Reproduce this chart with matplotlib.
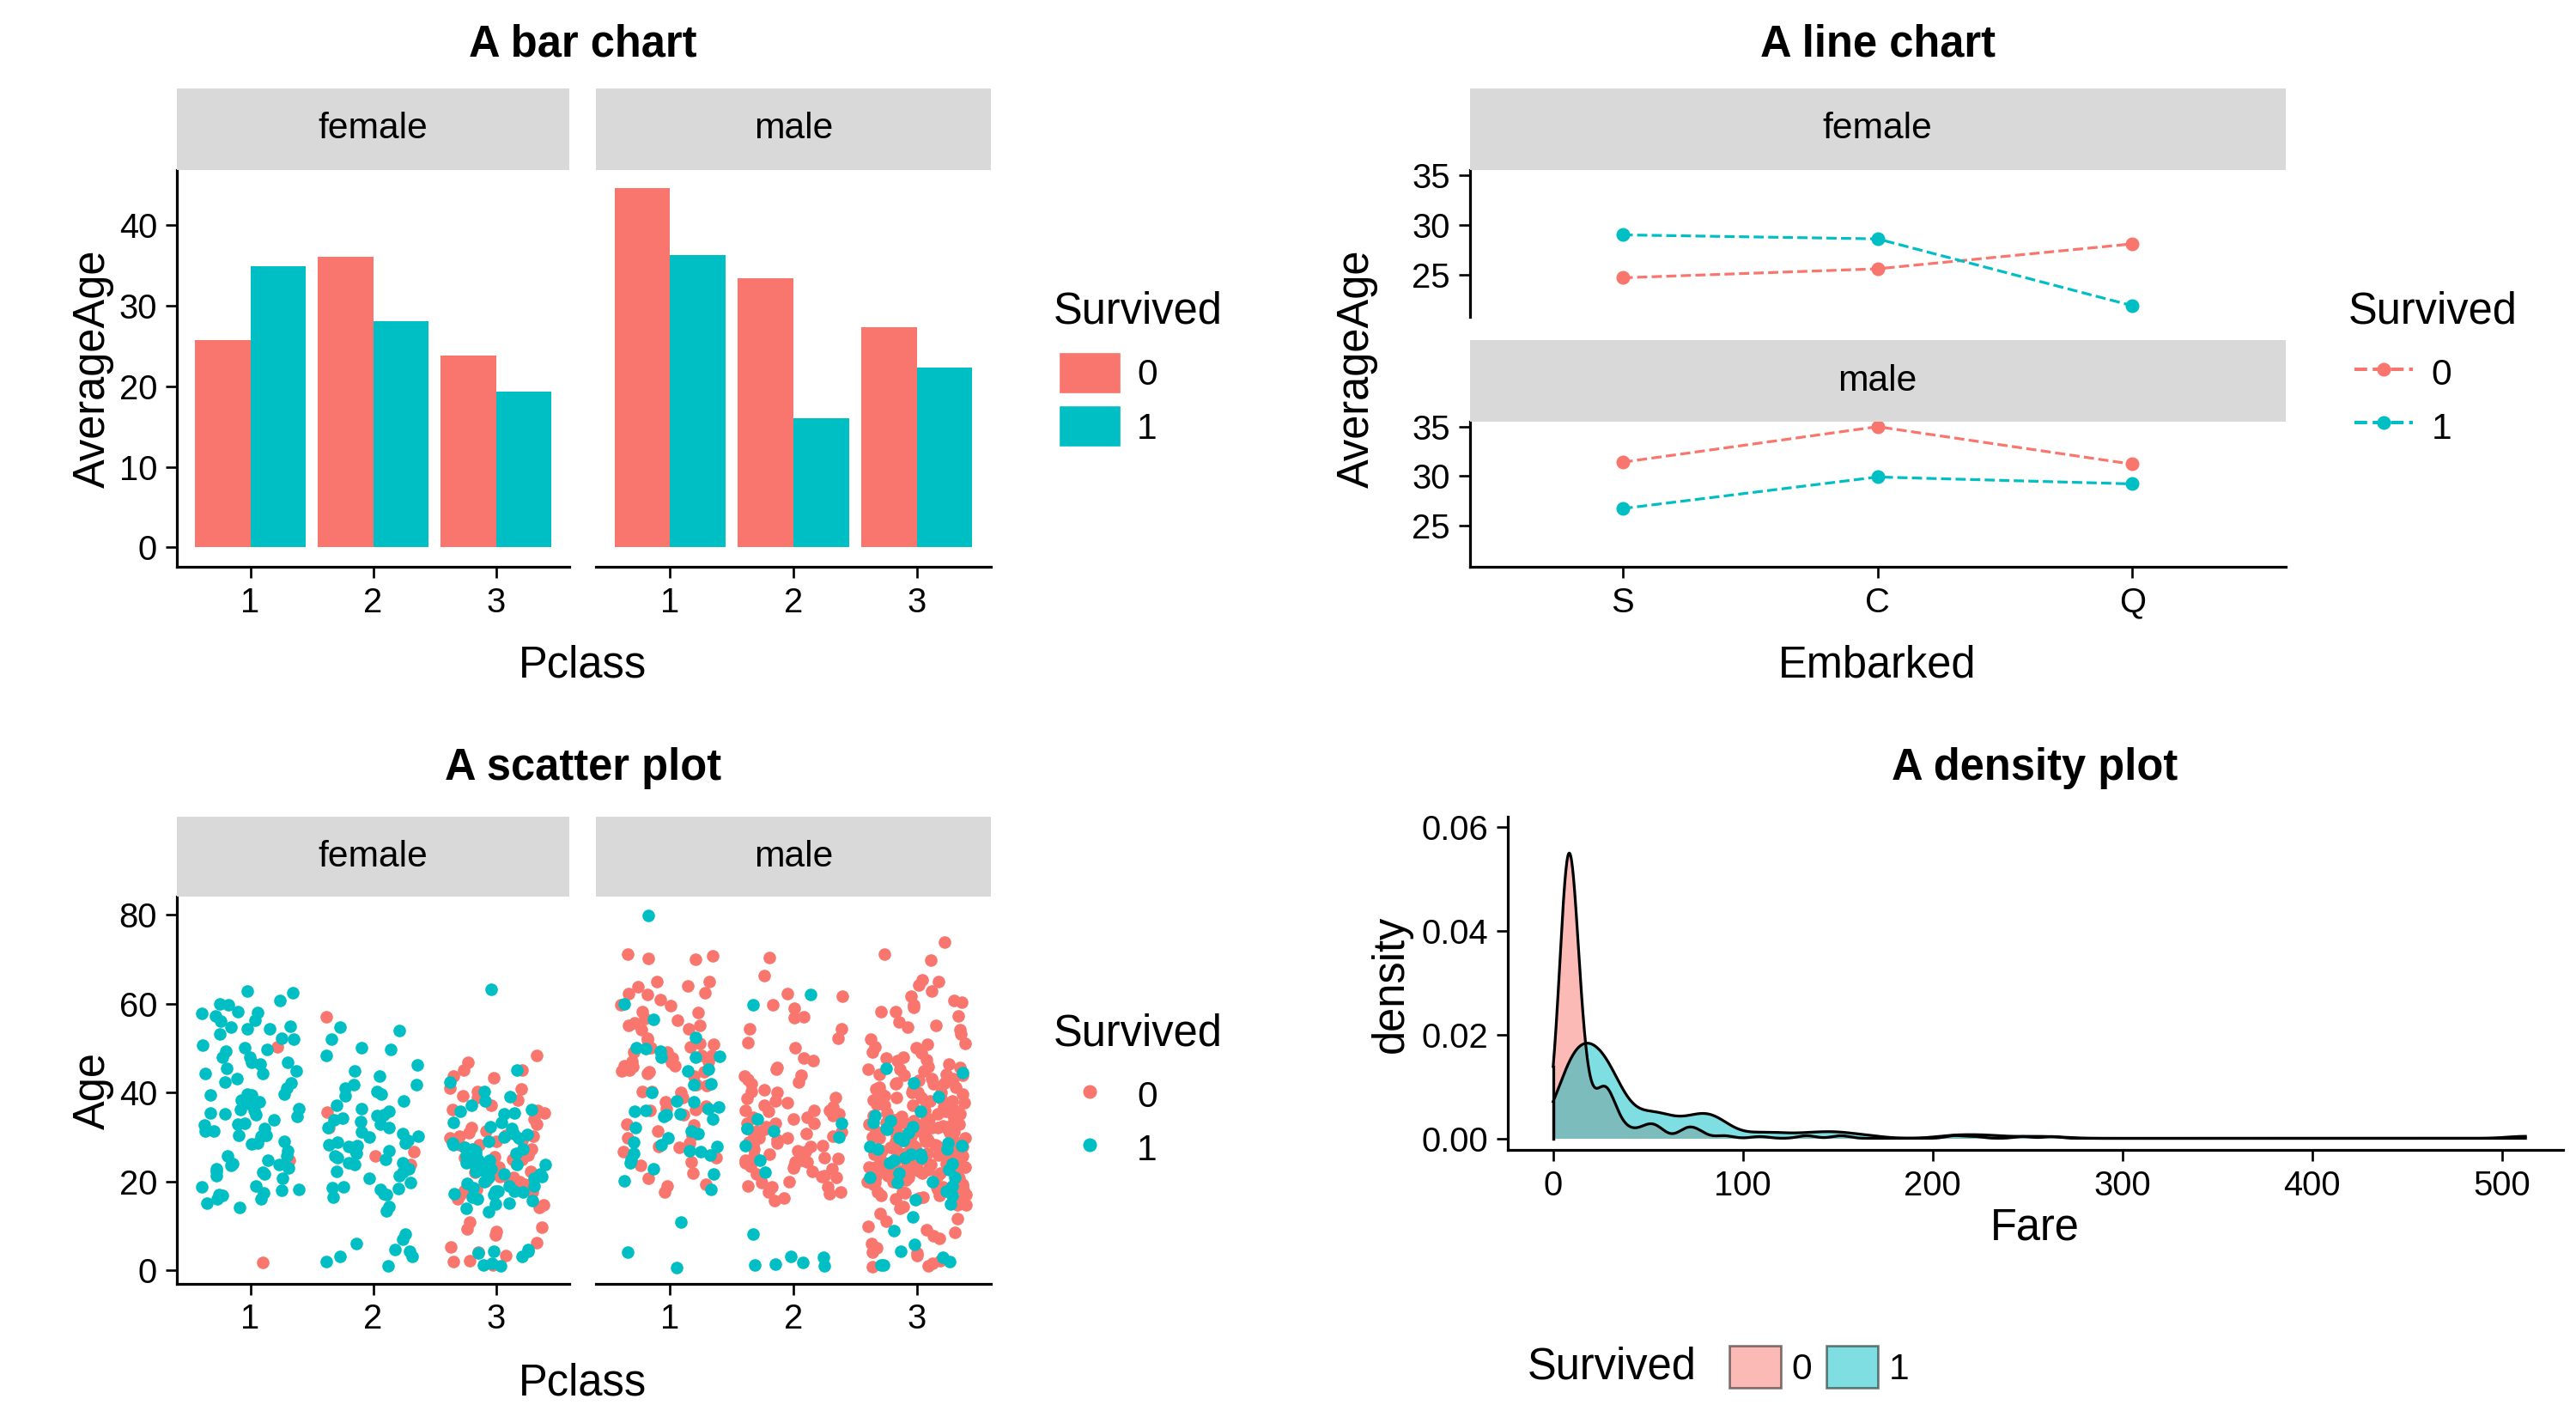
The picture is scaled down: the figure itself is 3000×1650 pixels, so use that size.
import numpy as np
import matplotlib
matplotlib.use("Agg")
import matplotlib.pyplot as plt
from matplotlib.patches import Patch
from matplotlib.lines import Line2D

plt.rcParams['font.family'] = ['Liberation Sans', 'DejaVu Sans']
RED = "#F8766D"
CYAN = "#00BFC4"
STRIP = "#D9D9D9"

# ---- data ----
pclass = [1, 2, 3]
bar_female_0 = [25.7, 36.0, 23.8]
bar_female_1 = [34.9, 28.1, 19.3]
bar_male_0 = [44.6, 33.4, 27.3]
bar_male_1 = [36.2, 16.0, 22.3]

embarked = ["S", "C", "Q"]
line_female_0 = [24.7, 25.6, 28.1]
line_female_1 = [29.0, 28.6, 21.9]
line_male_0 = [31.4, 35.0, 31.2]
line_male_1 = [26.7, 29.9, 29.2]

# ages by (sex, pclass, survived)
age_f1_0 = [2, 25, 50]
age_f1_1 = [58, 52, 61, 63, 55, 60, 45, 50, 38, 35, 36, 24, 22, 18, 17, 16, 30, 31, 33, 39, 40, 42,
            44, 47, 48, 49, 51, 53, 54, 56, 58, 19, 21, 23, 26, 27, 28, 29, 32, 34, 35, 36, 37, 41,
            43, 46, 15, 14, 24, 22, 18, 30, 35, 38, 16, 17, 25, 21, 33, 35, 36, 39, 45, 48, 50, 24,
            26, 30, 31, 40, 52, 55, 58, 57, 60, 62, 19, 17, 23, 22, 29, 33, 38, 42, 44, 47, 54, 56]
age_f2_0 = [24, 26, 27, 32, 36, 57]
age_f2_1 = [55, 50, 48, 45, 42, 40, 38, 36, 35, 34, 33, 32, 31, 30, 29, 28, 28, 27, 26, 25, 24, 24,
            23, 22, 22, 21, 20, 19, 18, 17, 17, 16, 14, 13, 8, 7, 6, 5, 4, 3, 3, 2, 1, 41, 44, 46,
            50, 28, 30, 32, 34, 36, 25, 27, 29, 31, 33, 35, 39, 24, 26, 21, 19, 18, 40, 42, 52, 54,
            37, 29]
age_f3_0 = [48, 47, 45, 44, 43, 41, 40, 39, 38, 37, 36, 35, 34, 33, 32, 31, 31, 30, 30, 29, 28, 28,
            27, 26, 25, 25, 24, 23, 22, 22, 21, 21, 20, 19, 18, 18, 17, 16, 15, 14, 11, 10, 9, 9,
            8, 6, 5, 4, 3, 2, 2, 1, 30, 29, 26, 25, 24, 22, 21, 20, 18, 45, 41, 39, 36, 30, 28]
age_f3_1 = [63, 45, 42, 38, 36, 35, 33, 32, 31, 30, 29, 28, 27, 26, 25, 24, 24, 23, 22, 22, 22, 21,
            20, 19, 19, 18, 18, 17, 16, 16, 15, 14, 13, 5, 4, 4, 3, 2, 1, 1, 24, 25, 26, 27, 29,
            30, 31, 32, 33, 35, 37, 39, 40, 15, 16, 17, 18, 19, 20, 21, 22, 23, 27, 28, 21, 18, 24,
            26, 36, 4]
age_m1_0 = [71, 70, 65, 64, 62, 61, 60, 58, 57, 56, 55, 54, 54, 52, 51, 50, 50, 49, 48, 47, 47, 46,
            46, 45, 45, 44, 42, 40, 40, 39, 38, 37, 36, 36, 35, 33, 31, 30, 29, 28, 27, 25, 24, 24,
            22, 21, 19, 19, 18, 45, 50, 55, 58, 62, 64, 33, 36, 40, 44, 48, 52, 56, 60, 62, 46, 47,
            49, 51, 30, 28, 37, 42, 45, 48, 65, 70, 71]
age_m1_1 = [80, 60, 56, 52, 50, 49, 48, 48, 45, 42, 40, 38, 36, 36, 35, 35, 34, 32, 31, 30, 29, 28,
            27, 26, 26, 25, 24, 23, 22, 20, 18, 11, 4, 1, 35, 38, 42, 45, 48, 50, 27, 28, 31, 36,
            37]
age_m2_0 = [70, 66, 62, 60, 57, 54, 52, 51, 50, 48, 47, 46, 45, 44, 43, 42, 42, 41, 40, 40, 39, 39,
            38, 37, 36, 36, 36, 35, 35, 34, 34, 33, 33, 32, 32, 31, 31, 30, 30, 30, 29, 29, 28, 28,
            28, 27, 27, 26, 26, 25, 25, 25, 24, 24, 24, 23, 23, 22, 22, 21, 21, 20, 20, 19, 19, 18,
            18, 17, 16, 16, 24, 25, 30, 32, 33, 34, 36, 37, 38, 19, 21, 23, 27, 29, 31, 44, 54, 57,
            59, 62]
age_m2_1 = [62, 60, 34, 33, 32, 31, 30, 28, 25, 22, 8, 3, 2, 1, 1, 1, 3]
age_m3_0 = [74, 71, 70, 65, 64, 61, 60, 59, 58, 57, 56, 55, 55, 54, 53, 52, 51, 51, 50, 50, 49, 49,
            48, 48, 47, 47, 46, 46, 45, 45, 45, 44, 44, 44, 43, 43, 42, 42, 42, 41, 41, 41, 40, 40,
            40, 40, 39, 39, 39, 38, 38, 38, 38, 37, 37, 37, 36, 36, 36, 36, 35, 35, 35, 35, 34, 34,
            34, 34, 33, 33, 33, 33, 32, 32, 32, 32, 32, 31, 31, 31, 31, 30, 30, 30, 30, 30, 29, 29,
            29, 29, 29, 28, 28, 28, 28, 28, 28, 27, 27, 27, 27, 27, 26, 26, 26, 26, 26, 26, 25, 25,
            25, 25, 25, 25, 24, 24, 24, 24, 24, 24, 23, 23, 23, 23, 23, 22, 22, 22, 22, 22, 22, 21,
            21, 21, 21, 21, 21, 20, 20, 20, 20, 20, 20, 19, 19, 19, 19, 19, 19, 18, 18, 18, 18, 18,
            17, 17, 17, 17, 16, 16, 16, 16, 15, 15, 14, 14, 13, 12, 11, 10, 9, 9, 8, 7, 6, 5, 4, 4,
            3, 2, 2, 1, 1, 28, 29, 30, 31, 33, 35, 37, 24, 25, 26, 27, 22, 21, 20, 19, 18, 23, 36,
            39, 41, 43, 46, 30, 28, 26, 32, 34, 21, 22, 25, 29, 24, 27, 28, 30, 31, 33, 35, 23, 20,
            26, 65, 62, 63, 60, 58, 40, 42, 44, 38, 36]
age_m3_1 = [45, 44, 42, 39, 36, 35, 34, 33, 32, 32, 31, 30, 29, 29, 28, 27, 27, 26, 26, 25, 25, 24,
            24, 23, 22, 21, 21, 20, 20, 19, 18, 17, 16, 15, 12, 9, 6, 4, 3, 2, 1, 1, 25, 32, 28]

# fare distribution (fare value, passenger count)
fare_0_vals = [0, 7.05, 7.25, 7.75, 7.85, 7.9, 8.05, 8.66, 9.5, 10.5, 13, 14.5, 15.5, 16.1, 21,
               26, 27.9, 29.1, 31, 34.4, 39.7, 46.9, 52, 56.5, 69.55, 73.5, 77.3, 90, 108.9, 133.6,
               151.6, 211.5, 221.8, 247.5, 263]
fare_0_cnt = [14, 25, 25, 45, 60, 50, 45, 20, 12, 12, 35, 12, 10, 8, 12, 28, 8, 8, 12, 6, 6, 6, 10,
              5, 7, 5, 4, 3, 2, 3, 3, 3, 2, 2, 2]
fare_1_vals = [7.75, 7.9, 8.05, 10.5, 13, 15.2, 16.7, 19.5, 23, 26, 26.55, 29, 30, 31, 39, 49.5,
               52.5, 55, 57, 66.6, 69.3, 76.7, 79.2, 83.2, 86.5, 90, 108.9, 120, 134.5, 146.5,
               153.5, 164.9, 211.3, 227.5, 247.5, 262.4, 512.3]
fare_1_cnt = [15, 15, 12, 10, 35, 10, 10, 10, 10, 28, 12, 10, 15, 10, 10, 8, 10, 8, 6, 6, 5, 8, 8,
              10, 5, 5, 6, 4, 5, 5, 3, 3, 4, 4, 2, 2, 3]

# ---- layout helpers (reference pixel coords, 1560x850) ----
W, H = 1560.0, 850.0
fig = plt.figure(figsize=(15.625, 8.594), dpi=192)


def box(x0, y0, x1, y1):
    return [x0 / W, 1 - y1 / H, (x1 - x0) / W, (y1 - y0) / H]


TICK = 15
LAB = 19


def style(ax, left=True):
    for s in ["top", "right"]:
        ax.spines[s].set_visible(False)
    ax.spines["bottom"].set_linewidth(1.2)
    ax.spines["left"].set_linewidth(1.2)
    ax.tick_params(labelsize=TICK, width=1.0, length=5, colors="black")
    if not left:
        ax.spines["left"].set_visible(False)
        ax.tick_params(axis="y", left=False, labelleft=False)
    ax.set_facecolor("white")


def strip(x0, y0, x1, y1, label):
    s = fig.add_axes(box(x0, y0, x1, y1))
    s.set_facecolor(STRIP)
    s.set_xticks([]); s.set_yticks([])
    for sp in s.spines.values():
        sp.set_visible(False)
    s.text(0.5, 0.5, label, ha="center", va="center", fontsize=TICK + 1, transform=s.transAxes)


def side_legend(x, y, kind):
    fig.text(x / W, 1 - y / H, "Survived", fontsize=LAB, va="center")
    if kind == "bar":
        hs = [Patch(color=RED), Patch(color=CYAN)]
    elif kind == "line":
        hs = [Line2D([], [], color=c, ls="--", marker="o", ms=5) for c in (RED, CYAN)]
    else:
        hs = [Line2D([], [], color=c, ls="", marker="o", ms=5) for c in (RED, CYAN)]
    fig.legend(hs, ["0", "1"], loc="upper left", bbox_to_anchor=(x / W - 0.006, 1 - (y + 12) / H),
               frameon=False, fontsize=TICK + 1, handlelength=1.6, handleheight=1.2,
               labelspacing=0.4, handletextpad=0.5, borderaxespad=0.2)


# ---- bar chart ----
for i, (x0, x1, sex, v0, v1) in enumerate([(107, 345, "female", bar_female_0, bar_female_1),
                                             (361, 600, "male", bar_male_0, bar_male_1)]):
    ax = fig.add_axes(box(x0, 102, x1, 340))
    x = np.array(pclass)
    ax.bar(x - 0.225, v0, width=0.45, color=RED)
    ax.bar(x + 0.225, v1, width=0.45, color=CYAN)
    ax.set_xlim(0.4, 3.6)
    ax.set_ylim(-2.4, 46.8)
    ax.set_xticks(pclass)
    ax.set_yticks([0, 10, 20, 30, 40])
    style(ax, left=(i == 0))
    if i == 0:
        ax.set_ylabel("AverageAge", fontsize=LAB, labelpad=2)
    strip(x0, 53, x1, 102, sex)
fig.text(353 / W, 1 - 27 / H, "A bar chart", ha="center", va="center", fontsize=LAB, fontweight="bold")
fig.text(353 / W, 1 - 399 / H, "Pclass", ha="center", va="center", fontsize=LAB)
side_legend(638, 187, "bar")

# ---- line chart ----
for i, (y0, y1, sex, v0, v1) in enumerate([(102, 190, "female", line_female_0, line_female_1),
                                             (253, 340, "male", line_male_0, line_male_1)]):
    ax = fig.add_axes(box(890, y0, 1384, y1))
    x = np.arange(3)
    ax.plot(x, v0, "--o", color=RED, ms=5, lw=1.2)
    ax.plot(x, v1, "--o", color=CYAN, ms=5, lw=1.2)
    ax.set_xlim(-0.6, 2.6)
    ax.set_ylim(20.8, 35.5)
    ax.set_yticks([25, 30, 35])
    style(ax)
    if i == 1:
        ax.set_xticks(x)
        ax.set_xticklabels(embarked)
    else:
        ax.set_xticks([])
        ax.spines["bottom"].set_visible(False)
    strip(890, y0 - 49, 1384, y0, sex)
fig.text(822 / W, 1 - 221 / H, "AverageAge", rotation=90, ha="center", va="center", fontsize=LAB)
fig.text(1137 / W, 1 - 27 / H, "A line chart", ha="center", va="center", fontsize=LAB, fontweight="bold")
fig.text(1137 / W, 1 - 399 / H, "Embarked", ha="center", va="center", fontsize=LAB)
side_legend(1422, 187, "line")

# ---- scatter plot ----
jit = np.random.default_rng(7)
groups = {"female": [(1, age_f1_0, age_f1_1), (2, age_f2_0, age_f2_1), (3, age_f3_0, age_f3_1)],
          "male": [(1, age_m1_0, age_m1_1), (2, age_m2_0, age_m2_1), (3, age_m3_0, age_m3_1)]}
for i, (x0, x1, sex) in enumerate([(107, 345, "female"), (361, 600, "male")]):
    ax = fig.add_axes(box(x0, 538, x1, 770))
    for pc, a0, a1 in groups[sex]:
        for ages, c in ((a0, RED), (a1, CYAN)):
            ages = np.array(ages, dtype=float)
            xs = pc + jit.uniform(-0.4, 0.4, len(ages))
            ys = ages + jit.uniform(-0.4, 0.4, len(ages))
            ax.scatter(xs, ys, s=30, color=c, linewidths=0, zorder=3)
    ax.set_xlim(0.4, 3.6)
    ax.set_ylim(-3, 84)
    ax.set_xticks(pclass)
    ax.set_yticks([0, 20, 40, 60, 80])
    style(ax, left=(i == 0))
    if i == 0:
        ax.set_ylabel("Age", fontsize=LAB, labelpad=2)
    strip(x0, 490, x1, 538, sex)
fig.text(353 / W, 1 - 461 / H, "A scatter plot", ha="center", va="center", fontsize=LAB, fontweight="bold")
fig.text(353 / W, 1 - 830 / H, "Pclass", ha="center", va="center", fontsize=LAB)
side_legend(638, 620, "scatter")

# ---- density plot ----
ax = fig.add_axes(box(913, 490, 1552, 690))
grid = np.linspace(0, 512.33, 2000)
for vals, cnt, bw, c in ((fare_0_vals, fare_0_cnt, 4.6, RED), (fare_1_vals, fare_1_cnt, 9.3, CYAN)):
    v = np.repeat(vals, cnt)
    d = np.exp(-0.5 * ((grid[:, None] - v[None, :]) / bw) ** 2).sum(axis=1)
    d = d / (len(v) * bw * np.sqrt(2 * np.pi))
    ax.fill_between(grid, d, color=c, alpha=0.5, lw=0)
    ax.plot(grid, d, color="black", lw=1.2)
    ax.plot([0, 0], [0, d[0]], color="black", lw=1.2)
ax.set_xlim(-24, 532)
ax.set_ylim(-0.0023, 0.062)
ax.set_xticks([0, 100, 200, 300, 400, 500])
ax.set_yticks([0, 0.02, 0.04, 0.06])
ax.set_yticklabels(["0.00", "0.02", "0.04", "0.06"])
style(ax)
ax.set_xlabel("Fare", fontsize=LAB, labelpad=2)
ax.set_ylabel("density", fontsize=LAB, labelpad=4)
fig.text(1232 / W, 1 - 461 / H, "A density plot", ha="center", va="center", fontsize=LAB, fontweight="bold")
fig.text(925 / W, 1 - 820 / H, "Survived", fontsize=LAB, va="center")
hs = [Patch(facecolor=RED, alpha=0.5, edgecolor="black"), Patch(facecolor=CYAN, alpha=0.5, edgecolor="black")]
fig.legend(hs, ["0", "1"], loc="center left", bbox_to_anchor=(1045 / W, 1 - 820 / H), ncol=2,
           frameon=False, fontsize=TICK + 1, handlelength=1.4, handleheight=1.4,
           handletextpad=0.3, columnspacing=0.4, borderaxespad=0.0, borderpad=0.1)

fig.savefig("out.png", dpi=192, facecolor="white")
